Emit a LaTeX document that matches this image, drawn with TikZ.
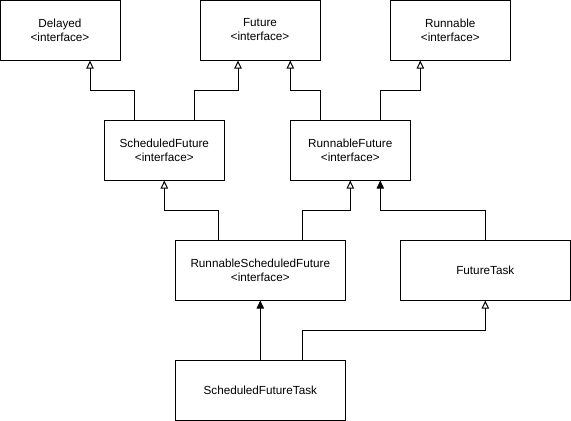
\documentclass[tikz,border=0pt]{standalone}
\usepackage{fontspec}
\setmainfont{Liberation Sans}
\usetikzlibrary{arrows.meta}
\begin{document}
\begin{tikzpicture}[x=0.75pt,y=-0.75pt,
  cls/.style={draw=black,line width=0.75pt,fill=white,inner sep=0pt,align=center,font=\fontsize{8.8pt}{10.5pt}\selectfont},
  conn/.style={draw=black,line width=0.75pt},
  inh/.style={conn,-{Triangle[open,width=5.5pt,length=6pt]}},
  impl/.style={conn,-{Triangle[width=5.5pt,length=6pt]}}]
\useasboundingbox (0,0) rectangle (571,421);
\node[cls,minimum width=90pt,minimum height=45pt] (delayed) at (60,30) {Delayed\\<interface>};
\node[cls,minimum width=90pt,minimum height=45pt] (future) at (260,30) {Future\\<interface>};
\node[cls,minimum width=90pt,minimum height=45pt] (runnable) at (450.3,30) {Runnable\\<interface>};
\node[cls,minimum width=90pt,minimum height=45pt] (sf) at (164.3,150) {ScheduledFuture\\<interface>};
\node[cls,minimum width=90pt,minimum height=45pt] (rf) at (350.3,150) {RunnableFuture\\<interface>};
\node[cls,minimum width=127.5pt,minimum height=45pt] (rsf) at (260.3,270) {RunnableScheduledFuture\\<interface>};
\node[cls,minimum width=127.5pt,minimum height=45pt] (ft) at (485.3,270) {FutureTask};
\node[cls,minimum width=127.5pt,minimum height=45pt] (sft) at (260.3,390) {ScheduledFutureTask};
% ScheduledFuture -> Delayed, Future
\draw[inh] (sf.north -| 134.7,0) -- (134.7,90) -- (90,90) -- (delayed.south -| 90,0);
\draw[inh] (sf.north -| 194,0) -- (194,90) -- (238,90) -- (future.south -| 238,0);
% RunnableFuture -> Future, Runnable
\draw[inh] (rf.north -| 320.3,0) -- (320.3,90) -- (290.3,90) -- (future.south -| 290.3,0);
\draw[inh] (rf.north -| 380.3,0) -- (380.3,90) -- (420.3,90) -- (runnable.south -| 420.3,0);
% RunnableScheduledFuture -> ScheduledFuture, RunnableFuture
\draw[inh] (rsf.north -| 218.3,0) -- (218.3,210) -- (164.3,210) -- (sf.south);
\draw[inh] (rsf.north -| 302.7,0) -- (302.7,210) -- (350.3,210) -- (rf.south);
% FutureTask -> RunnableFuture
\draw[impl] (ft.north) -- (485.3,210) -- (380.3,210) -- (rf.south -| 380.3,0);
% ScheduledFutureTask -> RunnableScheduledFuture, FutureTask
\draw[impl] (sft.north) -- (rsf.south);
\draw[inh] (sft.north -| 302.7,0) -- (302.7,330) -- (485.3,330) -- (ft.south);
\end{tikzpicture}
\end{document}
